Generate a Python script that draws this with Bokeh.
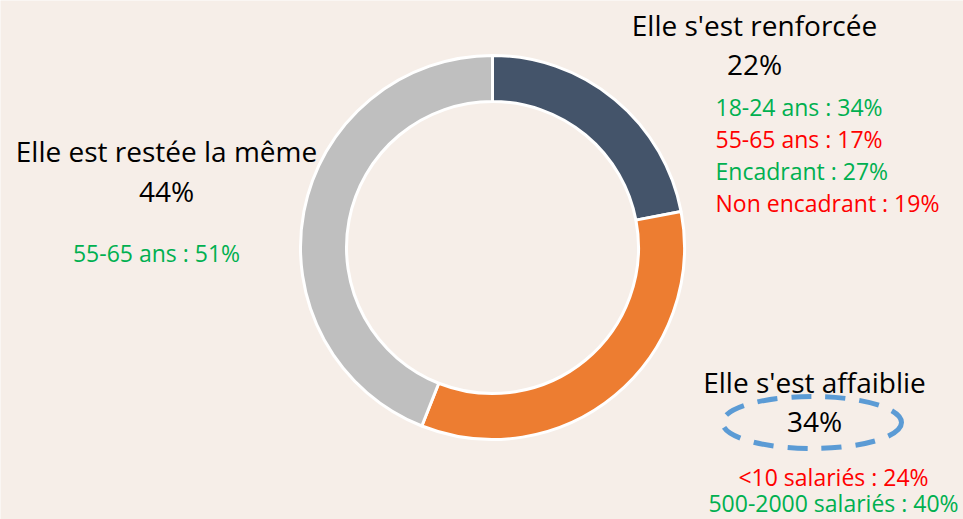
import math
from bokeh.plotting import figure
from bokeh.models import Range1d, ColumnDataSource
from bokeh.core.properties import value
from bokeh.embed import file_html
from bokeh.resources import INLINE

# ---- data ----
categories = ["Elle s'est renforcée", "Elle s'est affaiblie", "Elle est restée la même"]
shares = [22, 34, 44]
slice_colors = ["#44546A", "#ED7D31", "#BFBFBF"]

GREEN = "#00B050"
RED = "#FF0000"
renforcee_details = ["18-24 ans : 34%", "55-65 ans : 17%", "Encadrant : 27%", "Non encadrant : 19%"]
renforcee_colors = [GREEN, RED, GREEN, RED]
affaiblie_details = ["<10 salariés : 24%", "500-2000 salariés : 40%"]
affaiblie_colors = [RED, GREEN]
meme_details = ["55-65 ans : 51%"]
meme_colors = [GREEN]

BG = "#F6EEE8"
W, H = 963, 519
FONT = "Open Sans"
MAIN_PX = 28
DET_PX = 23
MAIN_SHIFT = 11.5   # compensation of the renderer's baseline offset
DET_SHIFT = 9.5

def fy(Y):
    # screen y (px from top) -> data y
    return H - Y

def fx(X):
    return X

p = figure(width=W, height=H, output_backend="svg", toolbar_location=None,
           x_range=Range1d(0, W), y_range=Range1d(0, H), min_border=0)
p.axis.visible = False
p.grid.visible = False
p.outline_line_color = None
p.background_fill_color = BG
p.border_fill_color = BG

# ---- donut ----
total = sum(shares)
starts, ends = [], []
acc = 0.0
for s in shares:
    a0 = math.pi / 2 - 2 * math.pi * acc / total
    acc += s
    a1 = math.pi / 2 - 2 * math.pi * acc / total
    starts.append(a0)
    ends.append(a1)

cx, cy = fx(492), fy(247)
src = ColumnDataSource(dict(start=starts, end=ends, color=slice_colors, cat=categories, v=shares))
p.annular_wedge(x=cx, y=cy, inner_radius=146, outer_radius=192, start_angle="start", end_angle="end",
                direction="clock", fill_color="color", line_color="white", line_width=3, source=src)

# ---- labels ----
def main_label(text, X, Ybase):
    p.text(x=[fx(X)], y=[fy(Ybase - MAIN_SHIFT)], text=[text], text_align="center",
           text_baseline="alphabetic", text_font=value(FONT), text_font_size=f"{MAIN_PX}px",
           text_color="black")

def detail_labels(texts, colors, X, Ybases, align):
    p.text(x=[fx(X)] * len(texts), y=[fy(Y - DET_SHIFT) for Y in Ybases], text=texts,
           text_color=colors, text_align=align, text_baseline="alphabetic",
           text_font=value(FONT), text_font_size=f"{DET_PX}px")

# renforcée
main_label(categories[0], 754, 36)
main_label(f"{shares[0]}%", 754, 75)
detail_labels(renforcee_details, renforcee_colors, 715, [116, 148, 180, 212], "left")

# restée la même
main_label(categories[2], 166, 162)
main_label(f"{shares[2]}%", 166, 202)
detail_labels(meme_details, meme_colors, 156, [262], "center")

# affaiblie
main_label(categories[1], 814, 393)
main_label(f"{shares[1]}%", 814, 432)
detail_labels(affaiblie_details, affaiblie_colors, 833, [486, 512], "center")

# dashed ellipse around 34%
p.ellipse(x=[fx(811.5)], y=[fy(422)], width=[179], height=[52], fill_alpha=0,
          line_color="#5B9BD5", line_width=5, line_dash="20 14")

open("out.html", "w").write(file_html(p, INLINE))
